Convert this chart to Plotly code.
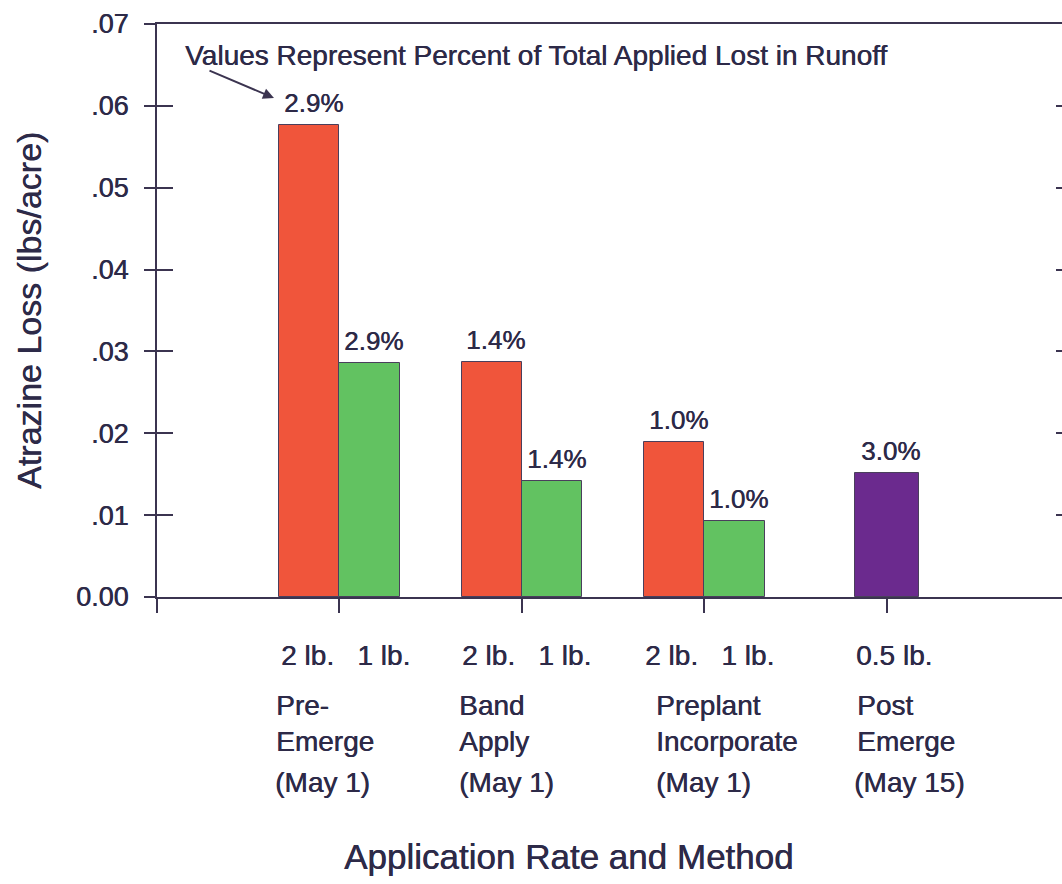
import plotly.graph_objects as go

# ---- data -------------------------------------------------------------
group_pos = [1, 2, 3]                      # pre-emerge, band, preplant
loss_2lb = [0.0577, 0.0287, 0.0189]        # lbs/acre, 2 lb. rate
loss_1lb = [0.0286, 0.0142, 0.0093]        # lbs/acre, 1 lb. rate
pct_2lb = ["2.9%", "1.4%", "1.0%"]
pct_1lb = ["2.9%", "1.4%", "1.0%"]

post_pos = [4]
loss_post = [0.0152]                       # lbs/acre, 0.5 lb. post emerge
pct_post = ["3.0%"]

rate_text = ["2 lb.\u00a0\u00a0 1 lb.", "2 lb.\u00a0\u00a0 1 lb.", "2 lb.\u00a0\u00a0 1 lb.", "0.5 lb."]
method_text = ["Pre-<br>Emerge", "Band<br>Apply", "Preplant<br>Incorporate", "Post<br>Emerge"]
app_dates = ["(May 1)", "(May 1)", "(May 1)", "(May 15)"]

y_tick_vals = [0, 0.01, 0.02, 0.03, 0.04, 0.05, 0.06, 0.07]
y_tick_text = ["0.00", ".01", ".02", ".03", ".04", ".05", ".06", ".07"]

# ---- styling ----------------------------------------------------------
INK = "#2d2a48"
AXIS = "#3b3450"
RED = "#f0553b"
GREEN = "#62c261"
PURPLE = "#6b2a8e"
FONT = "Liberation Sans, Arial, sans-serif"
HEAVY = "0.5px 0px 0px " + INK           # slight thickening of the glyphs

W, H = 1062, 884
L, R, T, B = 157, 0, 24, 287
X_MAX = 4.96
Y_MAX = 0.07
PAIR_W = 0.33
POST_W = 0.35


def tfont(size):
    return dict(family=FONT, size=size, color=INK, shadow=HEAVY)


fig = go.Figure()

fig.add_trace(go.Bar(
    x=group_pos, y=loss_2lb, width=PAIR_W, offset=-PAIR_W,
    marker=dict(color=RED, line=dict(color="#4a3f5c", width=1)),
    hoverinfo="skip", name="2 lb.",
))
fig.add_trace(go.Bar(
    x=group_pos, y=loss_1lb, width=PAIR_W, offset=0,
    marker=dict(color=GREEN, line=dict(color="#4a3f5c", width=1)),
    hoverinfo="skip", name="1 lb.",
))
fig.add_trace(go.Bar(
    x=post_pos, y=loss_post, width=POST_W, offset=-POST_W / 2,
    marker=dict(color=PURPLE, line=dict(color="#4a3f5c", width=1)),
    hoverinfo="skip", name="0.5 lb.",
))
# empty traces that carry the inward tick sets (left and right edges)
fig.add_trace(go.Scatter(x=[None], y=[None], yaxis="y2", showlegend=False))
fig.add_trace(go.Scatter(x=[None], y=[None], yaxis="y3", showlegend=False))

annotations = []


# percentage labels above each bar
def value_label(xc, yv, txt):
    annotations.append(dict(
        x=xc, y=yv, xref="x", yref="y", text=txt, showarrow=False,
        xanchor="center", yanchor="bottom", xshift=4, yshift=5,
        font=tfont(26),
    ))


for xc, v, t in zip(group_pos, loss_2lb, pct_2lb):
    value_label(xc - PAIR_W / 2, v, t)
for xc, v, t in zip(group_pos, loss_1lb, pct_1lb):
    value_label(xc + PAIR_W / 2, v, t)
for xc, v, t in zip(post_pos, loss_post, pct_post):
    value_label(xc, v, t)

# category text under the axis (left aligned under each group)
all_pos = group_pos + post_pos
rate_off = [-0.33, -0.34, -0.335, -0.18]
name_off = [-0.36, -0.355, -0.275, -0.175]
date_off = [-0.365, -0.355, -0.275, -0.19]


def py(px):
    """pixel row -> paper y"""
    return (H - B - px) / (H - T - B)


rows = [
    (rate_text, rate_off, 655),
    (method_text, name_off, 723),
    (app_dates, date_off, 782),
]
for texts, offs, ypx in rows:
    for xc, off, txt in zip(all_pos, offs, texts):
        annotations.append(dict(
            x=xc + off, y=py(ypx), xref="x", yref="paper", text=txt,
            showarrow=False, xanchor="left", yanchor="middle", align="left",
            font=tfont(28),
        ))

# axis titles
annotations.append(dict(
    x=(568 - L) / (W - L - R), y=py(856), xref="paper", yref="paper",
    text="Application Rate and Method", showarrow=False,
    xanchor="center", yanchor="middle", font=tfont(35),
))
annotations.append(dict(
    x=(29 - L) / (W - L - R), y=py(311), xref="paper", yref="paper",
    text="Atrazine Loss (lbs/acre)", showarrow=False, textangle=-90,
    xanchor="center", yanchor="middle", font=tfont(34),
))

# explanatory note with arrow to the first label
annotations.append(dict(
    x=(183 - L) / (W - L - R), y=py(55), xref="paper", yref="paper",
    text="Values Represent Percent of Total Applied Lost in Runoff",
    showarrow=False, xanchor="left", yanchor="middle", font=tfont(28),
))
annotations.append(dict(
    x=(274 - L) / (W - L - R), y=py(98), xref="paper", yref="paper",
    text="", showarrow=True, arrowhead=2, arrowsize=1.1, arrowwidth=2,
    arrowcolor=AXIS, ax=-66, ay=-28, standoff=0,
))

fig.update_layout(
    width=W, height=H,
    margin=dict(l=L, r=R, t=T, b=B, pad=0),
    paper_bgcolor="white", plot_bgcolor="white",
    showlegend=False, barmode="overlay", bargap=0,
    font=dict(family=FONT, color=INK),
    xaxis=dict(
        range=[0, X_MAX], tickvals=[0, 1, 2, 3, 4], showticklabels=False,
        ticks="outside", ticklen=14, tickwidth=2, tickcolor=AXIS,
        showline=True, linewidth=2, linecolor=AXIS, mirror=True,
        showgrid=False, zeroline=False, fixedrange=True,
    ),
    yaxis=dict(
        range=[0, Y_MAX], tickvals=y_tick_vals, ticktext=y_tick_text,
        ticks="outside", ticklen=11, tickwidth=2, tickcolor=AXIS,
        ticklabelstandoff=10, tickfont=tfont(27),
        showline=True, linewidth=2, linecolor=AXIS,
        showgrid=False, zeroline=False, fixedrange=True,
    ),
    yaxis2=dict(
        range=[0, Y_MAX], tickvals=y_tick_vals, overlaying="y", side="left",
        anchor="x", ticks="inside", ticklen=16, tickwidth=2, tickcolor=AXIS,
        showticklabels=False, showline=False, showgrid=False, zeroline=False,
    ),
    yaxis3=dict(
        range=[0, Y_MAX], tickvals=y_tick_vals[1:], overlaying="y", side="right",
        anchor="x", ticks="inside", ticklen=6, tickwidth=2, tickcolor=AXIS,
        showticklabels=False, showline=False, showgrid=False, zeroline=False,
    ),
    annotations=annotations,
)

fig.write_html("out.html", config={"displayModeBar": False})
